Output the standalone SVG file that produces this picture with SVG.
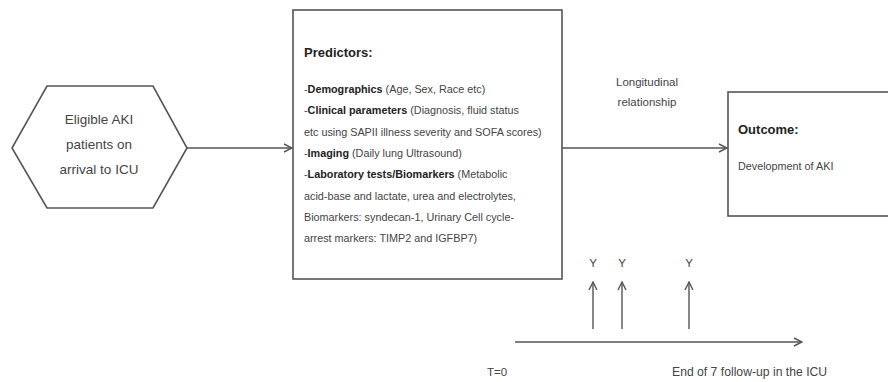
<svg xmlns="http://www.w3.org/2000/svg" width="888" height="382" viewBox="0 0 888 382">
<style>
.shape{fill:#fff;stroke:#555;stroke-width:1.6}
.line{fill:none;stroke:#555;stroke-width:1.4}
text{font-family:"Liberation Sans",Arial,sans-serif;fill:#444}
.b{font-weight:bold;fill:#222}
.body{font-size:10.8px}
.hex{font-size:13.5px;text-anchor:middle}
</style>
<defs>
<marker id="arr" viewBox="0 0 10 10" refX="9" refY="5" markerWidth="10" markerHeight="10" markerUnits="userSpaceOnUse" orient="auto">
<polyline points="1,1 9,5 1,9" fill="none" stroke="#555" stroke-width="1.4"/>
</marker>
</defs>
<rect width="888" height="382" fill="#fff"/>
<g id="connectors">
<line class="line" x1="187" y1="148" x2="292" y2="148" marker-end="url(#arr)"/>
<line class="line" x1="562" y1="148" x2="727" y2="148" marker-end="url(#arr)"/>
<line class="line" x1="515" y1="342" x2="802" y2="342" marker-end="url(#arr)"/>
<line class="line" x1="593" y1="329" x2="593" y2="282" marker-end="url(#arr)"/>
<line class="line" x1="622" y1="329" x2="622" y2="282" marker-end="url(#arr)"/>
<line class="line" x1="689" y1="329" x2="689" y2="282" marker-end="url(#arr)"/>
</g>
<g id="eligible">
<polygon class="shape" points="47,86 153,86 187,148 153,208 47,208 12,148"/>
<text class="hex" x="99" y="124">Eligible AKI</text>
<text class="hex" x="99" y="149">patients on</text>
<text class="hex" x="99" y="174">arrival to ICU</text>
</g>
<g id="predictors">
<rect class="shape" x="293" y="10" width="269" height="269"/>
<text class="b" x="304" y="57" font-size="13">Predictors:</text>
<text class="body" x="304" y="93">-<tspan class="b">Demographics</tspan> (Age, Sex, Race etc)</text>
<text class="body" x="304" y="114.3">-<tspan class="b">Clinical parameters</tspan> (Diagnosis, fluid status</text>
<text class="body" x="304" y="135.6">etc using SAPII illness severity and SOFA scores)</text>
<text class="body" x="304" y="156.9">-<tspan class="b">Imaging</tspan> (Daily lung Ultrasound)</text>
<text class="body" x="304" y="178.2">-<tspan class="b">Laboratory tests/Biomarkers</tspan> (Metabolic</text>
<text class="body" x="304" y="199.5">acid-base and lactate, urea and electrolytes,</text>
<text class="body" x="304" y="220.8">Biomarkers: syndecan-1, Urinary Cell cycle-</text>
<text class="body" x="304" y="242.1">arrest markers: TIMP2 and IGFBP7)</text>
</g>
<g id="relationship-label">
<text x="647" y="86" font-size="11.5" text-anchor="middle">Longitudinal</text>
<text x="647" y="106" font-size="11.5" text-anchor="middle">relationship</text>
</g>
<g id="outcome">
<rect class="shape" x="728" y="92" width="170" height="124"/>
<text class="b" x="738" y="134" font-size="13">Outcome:</text>
<text class="body" x="738" y="170">Development of AKI</text>
</g>
<g id="timeline-labels">
<text x="593" y="267" font-size="11.5" text-anchor="middle">Y</text>
<text x="622" y="267" font-size="11.5" text-anchor="middle">Y</text>
<text x="689" y="267" font-size="11.5" text-anchor="middle">Y</text>
<text x="487" y="376" font-size="11.5">T=0</text>
<text x="672" y="376" font-size="12.2">End of 7 follow-up in the ICU</text>
</g>
</svg>
